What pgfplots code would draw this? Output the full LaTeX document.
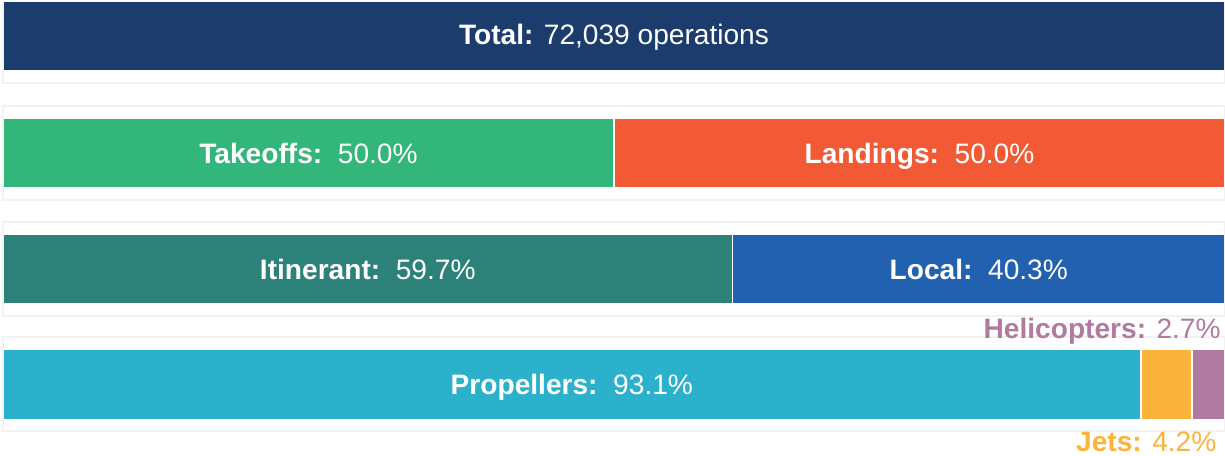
\documentclass[border=0pt]{standalone}
\usepackage{pgfplots}
\pgfplotsset{compat=1.18}
\usepackage{fontspec}
\setmainfont{Liberation Sans}
\definecolor{cTotal}{HTML}{1B3C6C}
\definecolor{cTake}{HTML}{33B679}
\definecolor{cLand}{HTML}{F15A35}
\definecolor{cItin}{HTML}{2C8178}
\definecolor{cLocal}{HTML}{2260B0}
\definecolor{cProp}{HTML}{2BB1CB}
\definecolor{cJets}{HTML}{FBB33B}
\definecolor{cHeli}{HTML}{B07AA1}
\begin{document}
\begin{tikzpicture}[
  lbl/.style={font=\fontsize{16}{19}\selectfont, text=white, anchor=base},
]
\begin{axis}[
  hide axis,
  scale only axis,
  width=245mm, height=91mm,
  xmin=-0.2455, xmax=100,
  ymin=-455, ymax=0,
  xbar stacked,
  bar width=70,
  clip=false,
  every axis plot/.append style={draw=white, line width=0.35mm},
  % labels go on top of the bars
  after end axis/.code={
    \node[lbl] at (axis cs:50,-44) {\textbf{Total:} 72,039 operations};
    \node[lbl] at (axis cs:25,-163) {\textbf{Takeoffs:}\ \ 50.0\%};
    \node[lbl] at (axis cs:75,-163) {\textbf{Landings:}\ \ 50.0\%};
    \node[lbl] at (axis cs:29.85,-279) {\textbf{Itinerant:}\ \ 59.7\%};
    \node[lbl] at (axis cs:79.85,-279) {\textbf{Local:}\ \ 40.3\%};
    \node[lbl] at (axis cs:46.55,-394) {\textbf{Propellers:}\ \ 93.1\%};
    \node[lbl, text=cHeli, anchor=base east] at (axis cs:100.15,-338) {\textbf{Helicopters:} 2.7\%};
    \node[lbl, text=cJets, anchor=base east] at (axis cs:99.8,-451) {\textbf{Jets:} 4.2\%};
  },
]
% light panels behind each row
\draw[black!5, line width=0.4mm] (axis cs:0,-1) -- (axis cs:0,-83) -- (axis cs:100,-83) -- (axis cs:100,-1);
\draw[black!5, line width=0.4mm] (axis cs:0,-106) rectangle (axis cs:100,-200);
\draw[black!5, line width=0.4mm] (axis cs:0,-222) rectangle (axis cs:100,-316);
\draw[black!5, line width=0.4mm] (axis cs:0,-337) rectangle (axis cs:100,-431);

% rows: total / direction / type / aircraft
\addplot[fill=cTotal] coordinates {(100,-36) (0,-153) (0,-269) (0,-384.5)};
\addplot[fill=cTake]  coordinates {(0,-36) (50,-153) (0,-269) (0,-384.5)};
\addplot[fill=cLand]  coordinates {(0,-36) (50,-153) (0,-269) (0,-384.5)};
\addplot[fill=cItin]  coordinates {(0,-36) (0,-153) (59.7,-269) (0,-384.5)};
\addplot[fill=cLocal] coordinates {(0,-36) (0,-153) (40.3,-269) (0,-384.5)};
\addplot[fill=cProp]  coordinates {(0,-36) (0,-153) (0,-269) (93.1,-384.5)};
\addplot[fill=cJets]  coordinates {(0,-36) (0,-153) (0,-269) (4.2,-384.5)};
\addplot[fill=cHeli]  coordinates {(0,-36) (0,-153) (0,-269) (2.7,-384.5)};
\end{axis}
\pgfresetboundingbox
\path[use as bounding box] (current axis.south west) rectangle (current axis.north east);
\end{tikzpicture}
\end{document}
